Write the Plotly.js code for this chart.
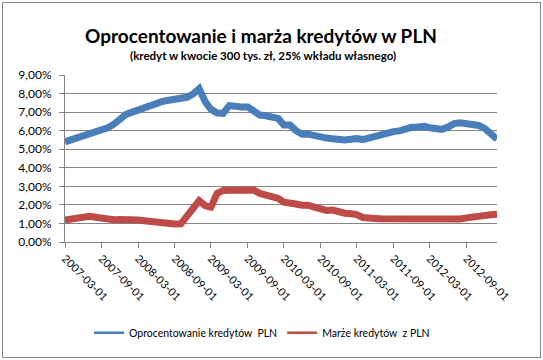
<!DOCTYPE html>
<html>
<head>
<meta charset="utf-8">
<script src="https://cdn.plot.ly/plotly-3.0.1.min.js"></script>
<style>
  html, body { margin: 0; padding: 0; background: #fff; }
  #wrap { position: relative; width: 543px; height: 360px; }
  #chart { position: absolute; left: 0; top: 0; width: 543px; height: 360px; }
  #frame { position: absolute; left: 2px; top: 2px; width: 537px; height: 354px; border: 1px solid #8a8a8a; pointer-events: none; }
</style>
</head>
<body>
<div id="wrap"><div id="chart"></div><div id="frame"></div></div>
<script>
// Months (first day of each month), 2007-03 .. 2013-02
const months = [
  '2007-03-01','2007-04-01','2007-05-01','2007-06-01','2007-07-01','2007-08-01','2007-09-01','2007-10-01','2007-11-01','2007-12-01',
  '2008-01-01','2008-02-01','2008-03-01','2008-04-01','2008-05-01','2008-06-01','2008-07-01','2008-08-01','2008-09-01','2008-10-01',
  '2008-11-01','2008-12-01','2009-01-01','2009-02-01','2009-03-01','2009-04-01','2009-05-01','2009-06-01','2009-07-01','2009-08-01',
  '2009-09-01','2009-10-01','2009-11-01','2009-12-01','2010-01-01','2010-02-01','2010-03-01','2010-04-01','2010-05-01','2010-06-01',
  '2010-07-01','2010-08-01','2010-09-01','2010-10-01','2010-11-01','2010-12-01','2011-01-01','2011-02-01','2011-03-01','2011-04-01',
  '2011-05-01','2011-06-01','2011-07-01','2011-08-01','2011-09-01','2011-10-01','2011-11-01','2011-12-01','2012-01-01','2012-02-01',
  '2012-03-01','2012-04-01','2012-05-01','2012-06-01','2012-07-01','2012-08-01','2012-09-01','2012-10-01','2012-11-01','2012-12-01',
  '2013-01-01','2013-02-01'
];

// Oprocentowanie kredytów PLN (%)
const oprocentowanie = [
  5.40, 5.50, 5.61, 5.71, 5.82, 5.93, 6.04, 6.15, 6.35, 6.62,
  6.88, 7.00, 7.12, 7.24, 7.36, 7.48, 7.58, 7.64, 7.67, 7.70,
  7.80, 7.97, 8.26, 7.55, 7.15, 6.95, 6.93, 7.35, 7.28, 7.28,
  7.28, 7.05, 6.84, 6.80, 6.76, 6.66, 6.30, 6.30, 6.00, 5.81,
  5.81, 5.72, 5.62, 5.60, 5.56, 5.52, 5.50, 5.54, 5.58, 5.52,
  5.62, 5.68, 5.74, 5.90, 5.95, 5.99, 6.12, 6.18, 6.20, 6.23,
  6.16, 6.09, 6.07, 6.20, 6.38, 6.42, 6.38, 6.35, 6.28, 6.12,
  5.85, 5.55
];

// Marże kredytów z PLN (%)
const marze = [
  1.19, 1.24, 1.29, 1.34, 1.39, 1.33, 1.26, 1.20, 1.20, 1.21,
  1.22, 1.21, 1.18, 1.15, 1.10, 1.05, 0.99, 0.96, 0.97, 0.98,
  1.40, 1.82, 2.22, 1.95, 1.88, 2.62, 2.78, 2.79, 2.81, 2.82,
  2.84, 2.80, 2.62, 2.52, 2.50, 2.35, 2.15, 2.14, 2.05, 1.98,
  1.98, 1.88, 1.80, 1.70, 1.72, 1.62, 1.55, 1.52, 1.48, 1.32,
  1.33, 1.27, 1.25, 1.25, 1.25, 1.24, 1.24, 1.24, 1.23, 1.23,
  1.23, 1.21, 1.19, 1.20, 1.22, 1.24, 1.30, 1.36, 1.42, 1.45,
  1.47, 1.49
];

const xTickVals = ['2007-03-01','2007-09-01','2008-03-01','2008-09-01','2009-03-01','2009-09-01',
                   '2010-03-01','2010-09-01','2011-03-01','2011-09-01','2012-03-01','2012-09-01'];
const yTickVals = [0,1,2,3,4,5,6,7,8,9];
const yTickText = ['0,00%','1,00%','2,00%','3,00%','4,00%','5,00%','6,00%','7,00%','8,00%','9,00%'];

const seriesNames = ['Oprocentowanie kredytów  PLN', 'Marże kredytów  z PLN'];
const colors = ['#4A7EBB', '#BE4B48'];

const FONT = 'Lato, "Open Sans", "DejaVu Sans", sans-serif';

const traces = [
  { x: months, y: oprocentowanie, type: 'scatter', mode: 'lines', name: seriesNames[0],
    line: { color: colors[0], width: 7 }, showlegend: false, hoverinfo: 'skip' },
  { x: months, y: marze, type: 'scatter', mode: 'lines', name: seriesNames[1],
    line: { color: colors[1], width: 7 }, showlegend: false, hoverinfo: 'skip' },
  // legend entries (thin line samples as in the original)
  { x: [null], y: [null], type: 'scatter', mode: 'lines', name: seriesNames[0],
    line: { color: colors[0], width: 2.5 }, showlegend: true },
  { x: [null], y: [null], type: 'scatter', mode: 'lines', name: seriesNames[1],
    line: { color: colors[1], width: 2.5 }, showlegend: true }
];

const layout = {
  width: 543, height: 360,
  margin: { l: 65, r: 46, t: 75, b: 114, pad: 0 },
  paper_bgcolor: '#ffffff', plot_bgcolor: '#ffffff',
  font: { family: FONT, size: 11, color: '#000' },
  title: {
    text: '<b>Oprocentowanie i marża kredytów w PLN</b>',
    font: { family: FONT, size: 19, color: '#000' },
    x: 261 / 543, xanchor: 'center', xref: 'container',
    y: 1 - 36 / 360, yanchor: 'middle', yref: 'container'
  },
  annotations: [{
    text: '<b>(kredyt w kwocie 300 tys. zł, 25% wkładu własnego)</b>',
    xref: 'paper', yref: 'paper',
    x: (263 - 65) / 432, y: (246 - 55) / 171,
    xanchor: 'center', yanchor: 'middle', showarrow: false,
    font: { family: FONT, size: 11.5, color: '#000' }
  }],
  xaxis: {
    type: 'date',
    range: ['2007-03-01', '2013-02-01'],
    tickmode: 'array', tickvals: xTickVals, ticktext: xTickVals,
    tickangle: 45,
    ticks: 'outside', ticklen: 5, tickcolor: '#868686', tickwidth: 1,
    showline: true, linecolor: '#868686', linewidth: 1,
    showgrid: false, zeroline: false,
    tickfont: { family: FONT, size: 11, color: '#000' },
    fixedrange: true
  },
  yaxis: {
    range: [0, 9],
    tickmode: 'array', tickvals: yTickVals, ticktext: yTickText,
    ticks: 'outside', ticklen: 5, tickcolor: '#868686', tickwidth: 1,
    ticklabelstandoff: 5,
    showline: true, linecolor: '#868686', linewidth: 1,
    showgrid: true, gridcolor: '#868686', gridwidth: 1,
    zeroline: false,
    tickfont: { family: FONT, size: 12, color: '#000' },
    fixedrange: true
  },
  showlegend: true,
  legend: {
    orientation: 'h',
    x: (262 - 65) / 432, xanchor: 'center',
    y: (246 - 339) / 171, yanchor: 'middle',
    font: { family: FONT, size: 10.5, color: '#000' },
    itemwidth: 30, tracegroupgap: 0,
    bgcolor: 'rgba(0,0,0,0)'
  }
};

Plotly.newPlot('chart', traces, layout, { displayModeBar: false, staticPlot: true });
</script>
</body>
</html>
